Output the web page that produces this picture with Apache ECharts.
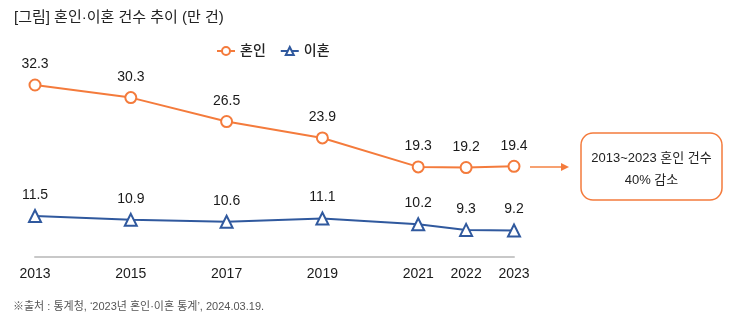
<!DOCTYPE html>
<html><head><meta charset="utf-8">
<script src="https://cdn.jsdelivr.net/npm/echarts@6/dist/echarts.min.js"></script>
<style>html,body{margin:0;padding:0;background:#fff}#c{width:737px;height:328px}</style>
</head><body><div id="c"></div>
<script>
const years = [2013, 2015, 2017, 2019, 2021, 2022, 2023];
const marriage = [32.3, 30.3, 26.5, 23.9, 19.3, 19.2, 19.4];
const divorce = [11.5, 10.9, 10.6, 11.1, 10.2, 9.3, 9.2];
const tickYears = [2013, 2015, 2017, 2019, 2021, 2022, 2023];

const ORANGE = '#F47B3C', BLUE = '#30599E';
const FONT = '"Liberation Sans", "Noto Sans CJK KR", sans-serif';
const chart = echarts.init(document.getElementById('c'));
chart.setOption({
  animation: false,
  textStyle: { fontFamily: FONT },
  title: { text: '[그림] 혼인·이혼 건수 추이 (만 건)', left: 9, top: 5,
    textStyle: { fontSize: 15, fontWeight: 'normal', color: '#222', fontFamily: FONT } },
  legend: { top: 39, left: 211, itemGap: 14, itemWidth: 18, itemHeight: 10,
    textStyle: { fontSize: 14, fontWeight: 500, color: '#222', fontFamily: FONT },
    data: [{ name: '혼인' }, { name: '이혼' }] },
  grid: { left: 35, right: 223, top: 68, bottom: 71 },
  xAxis: { type: 'value', min: 2013, max: 2023, interval: 1,
    axisLine: { show: true, lineStyle: { color: '#c8c8c8', width: 2 } },
    axisTick: { show: false }, splitLine: { show: false },
    axisLabel: { margin: 10, fontSize: 14, color: '#1a1a1a', fontFamily: FONT,
      formatter: v => tickYears.includes(v) ? String(v) : '' } },
  yAxis: { type: 'value', min: 5, max: 35, show: false },
  series: [
    { name: '혼인', type: 'line', data: years.map((y, i) => [y, marriage[i]]),
      symbol: 'circle', symbolSize: 11,
      lineStyle: { color: ORANGE, width: 2 },
      itemStyle: { color: '#fff', borderColor: ORANGE, borderWidth: 2 },
      label: { show: true, position: 'top', distance: 7, fontSize: 14, color: '#1a1a1a',
        fontFamily: FONT, formatter: p => p.value[1].toFixed(1) } },
    { name: '이혼', type: 'line', data: years.map((y, i) => [y, divorce[i]]),
      symbol: 'triangle', symbolSize: 12,
      lineStyle: { color: BLUE, width: 2 },
      itemStyle: { color: '#fff', borderColor: BLUE, borderWidth: 2 },
      label: { show: true, position: 'top', distance: 7, fontSize: 14, color: '#1a1a1a',
        fontFamily: FONT, formatter: p => p.value[1].toFixed(1) } }
  ],
  graphic: [
    { type: 'line', shape: { x1: 530, y1: 167, x2: 562, y2: 167 },
      style: { stroke: '#F7A171', lineWidth: 2 } },
    { type: 'polygon', shape: { points: [[561, 163], [569, 167], [561, 171]] },
      style: { fill: ORANGE } },
    { type: 'rect', shape: { x: 581, y: 133, width: 141, height: 67, r: 12 },
      style: { fill: '#fff', stroke: ORANGE, lineWidth: 1.5 } },
    { type: 'text', x: 651.5, y: 158,
      style: { text: '2013~2023 혼인 건수', fill: '#222', font: '13px ' + FONT, align: 'center', verticalAlign: 'middle' } },
    { type: 'text', x: 651.5, y: 180,
      style: { text: '40% 감소', fill: '#222', font: '13px ' + FONT, align: 'center', verticalAlign: 'middle' } },
    { type: 'text', left: 13, top: 301,
      style: { text: "※출처 : 통계청, ‘2023년 혼인·이혼 통계’, 2024.03.19.", fill: '#555', font: '11px ' + FONT } }
  ]
});
</script></body></html>
